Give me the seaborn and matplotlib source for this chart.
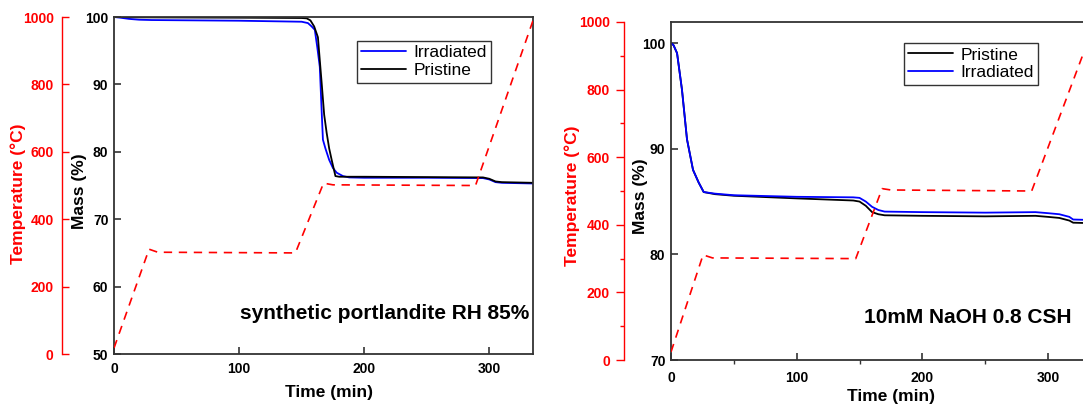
import numpy as np
import pandas as pd
import seaborn as sns
import matplotlib.pyplot as plt
from matplotlib.ticker import MultipleLocator

# TGA verileri
# Sol panel: synthetic portlandite RH 85%
t_port_pris = [0, 20, 100, 150, 154, 157, 160, 163, 166, 168, 170, 172, 174, 176, 177, 180, 200, 250, 295, 300, 305, 310, 335]
m_port_pris = [100, 99.95, 99.9, 99.85, 99.8, 99.5, 98.6, 97.0, 90.2, 85.5, 82.8, 80.5, 78.8, 77.2, 76.4, 76.3, 76.3, 76.25, 76.2, 76.0, 75.6, 75.5, 75.4]

t_port_irr = [0, 5, 12, 20, 30, 100, 150, 155, 158, 160.5, 162.5, 164.5, 166, 167, 169, 172, 175, 178, 183, 188, 200, 250, 295, 300, 305, 310, 335]
m_port_irr = [100, 99.9, 99.72, 99.6, 99.55, 99.45, 99.3, 99.1, 98.6, 98.1, 95.5, 92.6, 86, 81.8, 80.5, 78.8, 77.6, 76.9, 76.4, 76.2, 76.15, 76.15, 76.1, 75.9, 75.5, 75.4, 75.3]

t_port_temp = [0, 28, 35, 145, 167.5, 175, 289, 335]
temp_port = [18, 311, 302, 300, 507, 502, 500, 990]

# Sağ panel: 10mM NaOH 0.8 CSH
t_csh = [0, 2, 4.8, 8.7, 12.7, 17.5, 22, 26, 35, 50, 100, 145, 150, 155, 160, 165, 170, 200, 250, 290, 300, 309, 317, 320, 335]
m_csh_pris = [100, 99.8, 99.05, 95.6, 90.9, 88.0, 86.8, 85.9, 85.7, 85.55, 85.3, 85.1, 85.0, 84.6, 84.0, 83.8, 83.7, 83.65, 83.6, 83.65, 83.55, 83.45, 83.2, 83.0, 82.95]
m_csh_irr = [100, 99.8, 99.05, 95.6, 90.9, 88.0, 86.8, 85.9, 85.75, 85.6, 85.45, 85.4, 85.35, 85.0, 84.5, 84.2, 84.05, 84.0, 83.95, 84.0, 83.9, 83.8, 83.55, 83.3, 83.25]

t_csh_temp = [0, 25.5, 33, 147, 168, 175, 287, 335]
temp_csh = [24, 311, 302, 300, 507, 503, 500, 975]

sns.set_theme(style='ticks')
plt.rcParams['font.family'] = ['Liberation Sans', 'DejaVu Sans']
plt.rcParams['text.color'] = 'black'
plt.rcParams['axes.labelcolor'] = 'black'
plt.rcParams['xtick.color'] = 'black'
plt.rcParams['ytick.color'] = 'black'

fig = plt.figure(figsize=(10.83, 4.05), dpi=100)

FRAME = '#333333'


def tga_panel(rect, series, t_temp, temp, ylim, label, text_pos, red_offset,
              red_dir, minor, lab_pos):
    ax = fig.add_axes(rect)
    for t, m, name, col in series:
        sns.lineplot(x=t, y=m, color=col, lw=1.3, label=name, ax=ax)

    ax.set_xlim(0, 335)
    ax.set_ylim(*ylim)
    ax.xaxis.set_major_locator(MultipleLocator(100))
    ax.yaxis.set_major_locator(MultipleLocator(10))
    for s in ax.spines.values():
        s.set_color(FRAME)
        s.set_linewidth(1.3)
    ax.tick_params(direction='in', length=5, width=1.2, color=FRAME,
                   labelcolor='black', labelsize=10, pad=4)
    ax.tick_params(axis='x', pad=lab_pos['xpad'])
    for lb in ax.get_xticklabels() + ax.get_yticklabels():
        lb.set_fontweight('bold')
    if minor:
        ax.xaxis.set_minor_locator(MultipleLocator(50))
        ax.tick_params(axis='x', which='minor', direction='out', length=3,
                       width=1, color=FRAME)

    ax.set_xlabel('Time (min)', fontsize=12.5, fontweight='bold')
    ax.xaxis.set_label_coords(*lab_pos['time'])
    ax.set_ylabel('Mass (%)', fontsize=12.5, fontweight='bold')
    ax.yaxis.set_label_coords(*lab_pos['mass'])
    ax.yaxis.label.set(va='center', ha='center')
    ax.xaxis.label.set(va='center')

    ax.text(*text_pos, label, transform=ax.transAxes, ha='center',
            va='center', fontsize=15, fontweight='bold', color='black')

    leg = ax.legend(loc='upper left', bbox_to_anchor=lab_pos['legend'],
                    bbox_transform=fig.transFigure, fontsize=12.5,
                    frameon=True, fancybox=False, framealpha=1,
                    handlelength=2.6, handletextpad=0.4, borderpad=0.25,
                    labelspacing=0.15, borderaxespad=0)
    leg.get_frame().set_edgecolor(FRAME)
    leg.get_frame().set_linewidth(1.0)

    # sıcaklık ekseni (solda, kırmızı)
    ax2 = ax.twinx()
    sns.lineplot(x=t_temp, y=temp, color='red', lw=1.2, ax=ax2)
    ax2.lines[-1].set_dashes((5, 4))
    ax2.set_ylim(0, 1000)
    ax2.yaxis.tick_left()
    ax2.yaxis.set_label_position('left')
    ax2.spines['left'].set_position(('axes', red_offset))
    for side in ['right', 'top', 'bottom']:
        ax2.spines[side].set_visible(False)
    ax2.spines['left'].set_visible(True)
    ax2.spines['left'].set_color('red')
    ax2.spines['left'].set_linewidth(1.0)
    ax2.yaxis.set_major_locator(MultipleLocator(200))
    ax2.tick_params(axis='y', direction=red_dir, length=6 if red_dir == 'out' else 5,
                    width=1, color='red', labelcolor='red', labelsize=10,
                    pad=lab_pos['redpad'])
    if minor:
        ax2.yaxis.set_minor_locator(MultipleLocator(100))
        ax2.tick_params(axis='y', which='minor', direction='out', length=3,
                        width=1, color='red')
    for lb in ax2.get_yticklabels():
        lb.set_fontweight('bold')
    ax2.set_ylabel('Temperature (°C)', fontsize=12.5, fontweight='bold',
                   color='red')
    ax2.yaxis.set_label_coords(*lab_pos['temp'])
    ax2.yaxis.label.set(va='center', ha='center')
    return ax, ax2


tga_panel([0.1053, 0.1259, 0.3869, 0.8321],
          [(t_port_irr, m_port_irr, 'Irradiated', 'blue'),
           (t_port_pris, m_port_pris, 'Pristine', 'black')],
          t_port_temp, temp_port, (50, 100), 'synthetic portlandite RH 85%',
          (0.6456, 0.119), -0.124, 'in', False,
          {'time': (0.512, -0.113), 'mass': (-0.0835, 0.484),
           'temp': (-0.229, 0.475), 'legend': (0.3296, 0.8988),
           'xpad': 6, 'redpad': 6})

tga_panel([0.6196, 0.1111, 0.3887, 0.8346],
          [(t_csh, m_csh_pris, 'Pristine', 'black'),
           (t_csh, m_csh_irr, 'Irradiated', 'blue')],
          t_csh_temp, temp_csh, (70, 102), '10mM NaOH 0.8 CSH',
          (0.704, 0.127), -0.112, 'out', True,
          {'time': (0.5226, -0.1065), 'mass': (-0.0736, 0.485),
           'temp': (-0.235, 0.485), 'legend': (0.8347, 0.8938),
           'xpad': 8, 'redpad': 4})

fig.savefig('out.png', dpi=100)
